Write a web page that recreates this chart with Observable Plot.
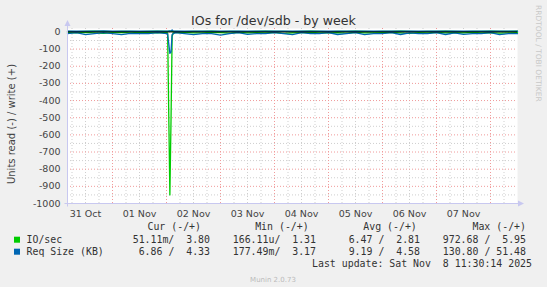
<!DOCTYPE html>
<html><head><meta charset="utf-8">
<script src="https://cdn.jsdelivr.net/npm/d3@7"></script>
<script src="https://cdn.jsdelivr.net/npm/@observablehq/plot@0.6"></script>
<style>
html,body{margin:0;padding:0;background:#f0f0f0;overflow:hidden;}
#chart{width:547px;height:287px;}
</style></head><body><div id="chart"></div>
<script>
// ---- data ----
const START = "2025-10-31T04:00:00Z";
const END = "2025-11-08T12:00:00Z";
const hours = [0,4,8,12,16,20,24,28,32,36,40,44,
  44.5,45.5,46,46.5,47,
  48,52,56,60,64,68,72,76,80,84,88,92,96,100,104,108,112,116,120,124,128,132,136,140,144,148,152,156,160,164,168,172,176,180,184,188,192,196,200];
const ioRead = [4,6,3,5,8,4,3,5,2,4,6,3,
  5,950,520,25,6,
  4,3,5,6,2,4,7,3,5,4,6,3,8,5,4,3,6,5,4,7,3,5,6,4,3,5,8,4,6,3,5,4,6,3,5,4,7,5,4];
const ioWrite = [3,2,3,4,3,2,3,3,2,3,4,3,
  3,5,4,3,3,
  3,2,3,3,4,2,3,3,2,3,4,3,3,2,3,4,3,2,3,3,4,3,2,3,3,4,3,2,3,3,4,3,2,3,3,4,3,3,4];
const reqRead = [10,4,16,10,4,10,16,9,10,10,4,10,
  12,125,118,15,10,
  4,10,16,10,10,19,10,4,14,10,10,4,10,16,4,10,10,4,15,10,4,16,10,10,4,15,5,10,10,4,15,5,14,10,10,4,16,10,10];
const reqWrite = [4,5,4,4,6,4,4,5,4,4,5,4,
  4,6,5,12,5,
  4,5,4,4,5,4,4,5,4,4,5,4,4,5,4,4,5,4,4,5,4,4,5,4,4,5,4,4,5,4,4,5,4,4,5,4,4,5,4];
const dayLabels = ["2025-10-31","2025-11-01","2025-11-02","2025-11-03","2025-11-04","2025-11-05","2025-11-06","2025-11-07"];
const yTicks = [0,-100,-200,-300,-400,-500,-600,-700,-800,-900,-1000];
const legendHeaders = ["Cur (-/+)","Min (-/+)","Avg (-/+)","Max (-/+)"];
const ioSecLegend = ["51.11m/  3.80","166.11u/  1.31","6.47 /  2.81","972.68 /  5.95"];
const reqSizeLegend = ["6.86 /  4.33","177.49m/  3.17","9.19 /  4.58","130.80 / 51.48"];
const seriesNames = ["IO/sec","Req Size (KB)"];
const seriesColors = ["#00cc00","#0066b3"];

// ---- build ----
const t0 = new Date(START), t1 = new Date(END);
const rows = hours.map((h,i)=>({date:new Date(+t0 + h*3600e3), ioRead:ioRead[i], ioWrite:ioWrite[i], reqRead:reqRead[i], reqWrite:reqWrite[i]}));
const noonTicks = dayLabels.map(d=>new Date(d+"T12:00:00Z"));
const minorX = d3.utcHour.every(6).range(t0,t1).filter(d=>d.getUTCHours()!==0);
const majorX = d3.utcDay.range(d3.utcDay.ceil(t0), t1);
const minorY = d3.range(-950, 0, 100);
const majorY = yTicks.filter(v=>v!==-1000);

const chart = Plot.plot({
  width:547, height:287,
  marginLeft:67, marginRight:30, marginTop:28, marginBottom:84,
  style:{background:"transparent", fontFamily:"'DejaVu Sans'", fontSize:"9.5px", color:"#444"},
  x:{type:"utc", domain:[t0,t1], ticks:noonTicks, tickFormat:d3.utcFormat("%d %b"), tickSize:0, tickPadding:7, label:null},
  y:{domain:[-1000,20], ticks:yTicks, tickFormat:d=>String(d), tickSize:0, tickPadding:7, label:null},
  marks:[
    Plot.frame({fill:"white", stroke:null}),
    Plot.ruleX(minorX, {stroke:"#cfcfcf", strokeDasharray:"1,2"}),
    Plot.ruleY(minorY, {stroke:"#cfcfcf", strokeDasharray:"1,2"}),
    Plot.ruleX(majorX, {stroke:"#f09a9a", strokeDasharray:"1,2"}),
    Plot.ruleY(majorY, {stroke:"#f09a9a", strokeDasharray:"1,2"}),
    Plot.line(rows, {x:"date", y:d=>-d.ioRead, stroke:seriesColors[0], strokeWidth:1.3}),
    Plot.line(rows, {x:"date", y:"ioWrite", stroke:seriesColors[0], strokeWidth:1.3}),
    Plot.line(rows, {x:"date", y:d=>-d.reqRead, stroke:seriesColors[1], strokeWidth:1.3}),
    Plot.line(rows, {x:"date", y:"reqWrite", stroke:seriesColors[1], strokeWidth:1.3}),
    Plot.ruleY([0], {stroke:"#000", strokeWidth:1})
  ]
});
document.getElementById("chart").appendChild(chart);

const svg = d3.select(chart);
const xs = chart.scale("x"), ys = chart.scale("y");
const L = Math.round(xs.apply(t0)) + 0.5, R = xs.apply(t1);
const T = ys.apply(20), B = Math.round(ys.apply(-1000)) + 0.5;
const axisColor = "#c8c8f0";
svg.append("line").attr("x1",L).attr("x2",L).attr("y1",B+3).attr("y2",T-2).attr("stroke",axisColor);
svg.append("path").attr("d",`M${L-3},${T-2} L${L+3},${T-2} L${L},${T-8} Z`).attr("fill",axisColor);
svg.append("line").attr("x1",L-3).attr("x2",R+2).attr("y1",B).attr("y2",B).attr("stroke",axisColor);
svg.append("path").attr("d",`M${R+1},${B-3} L${R+1},${B+3} L${R+7},${B} Z`).attr("fill",axisColor);

function txt(x,y,s,opt={}){
  const t = svg.append("text").attr("x",x).attr("y",y).text(s)
    .attr("font-family",opt.family||"'DejaVu Sans'").attr("font-size",opt.size||"9.5px")
    .attr("fill",opt.fill||"#333").attr("text-anchor",opt.anchor||"start").style("white-space","pre");
  if(opt.transform) t.attr("transform",opt.transform);
  return t;
}
txt(273.5,24.5,"IOs for /dev/sdb - by week",{size:"12.6px",anchor:"middle"});
txt(0,0,"Units read (-) / write (+)",{size:"10px",anchor:"middle",fill:"#444",transform:"translate(14.5,124) rotate(-90)"});
txt(0,0,"RRDTOOL / TOBI OETIKER",{size:"7.5px",fill:"#c8c8c8",transform:"translate(535.5,5) rotate(90)"});

const mono = "'DejaVu Sans Mono'";
const hdrEnds = [201,308.7,416.8,526];
const valEnds = [210,316,420,526];
legendHeaders.forEach((h,i)=>txt(hdrEnds[i],230,h,{family:mono,size:"9.9px",anchor:"end"}));
[ioSecLegend, reqSizeLegend].forEach((vals,r)=>{
  const yb = 242.7 + r*12;
  svg.append("rect").attr("x",14).attr("y",yb-6).attr("width",6).attr("height",6).attr("fill",seriesColors[r]);
  txt(26.5,yb,seriesNames[r],{family:mono,size:"9.9px"});
  vals.forEach((v,i)=>txt(valEnds[i],yb,v,{family:mono,size:"9.9px",anchor:"end"}));
});
txt(532,267,"Last update: Sat Nov  8 11:30:14 2025",{family:mono,size:"9.9px",anchor:"end"});
txt(273,282,"Munin 2.0.73",{size:"7px",anchor:"middle",fill:"#bbbbbb"});
</script></body></html>
